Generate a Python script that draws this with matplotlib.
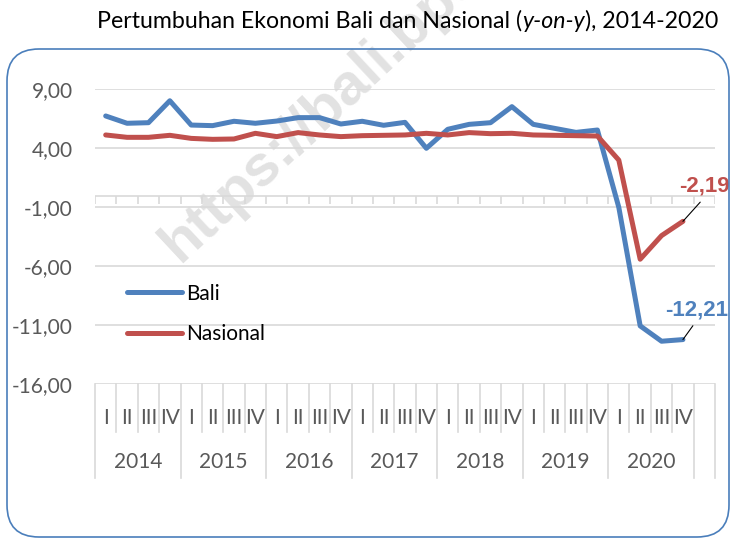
import matplotlib

matplotlib.use('Agg')

import matplotlib.pyplot as plt
from matplotlib.patches import FancyBboxPatch

plt.rcParams['font.family'] = ['Lato', 'DejaVu Sans']
BOLD_FONT = ['Liberation Sans', 'DejaVu Sans']

# data
years = ['2014', '2015', '2016', '2017', '2018', '2019', '2020']
quarters = ['I', 'II', 'III', 'IV']
bali = [6.74, 6.12, 6.17, 8.03, 5.97, 5.92, 6.29, 6.12,
        6.31, 6.60, 6.60, 6.06, 6.29, 5.95, 6.20, 4.00,
        5.61, 6.03, 6.17, 7.53, 6.03, 5.69, 5.35, 5.55,
        -1.00, -11.05, -12.35, -12.21]
nasional = [5.13, 4.93, 4.93, 5.10, 4.84, 4.76, 4.79, 5.27,
            4.99, 5.33, 5.13, 4.99, 5.07, 5.10, 5.13, 5.27,
            5.13, 5.33, 5.24, 5.27, 5.13, 5.10, 5.07, 5.04,
            3.00, -5.40, -3.40, -2.19]
y_ticks = [-16, 9, 5]

BLUE = '#4F81BD'
RED = '#C0504D'
GRID = '#D9D9D9'
LABEL = '#595959'

n = len(bali)
n_cat = n + 1  # excel range has one blank category at the end
x = [i + 0.5 for i in range(n)]

fig = plt.figure(figsize=(7.34, 5.39), dpi=100)
ax = fig.add_axes([95 / 734, 1 - 384.3 / 539, 620 / 734, 295 / 539])

# rounded chart border
fig.patches.append(FancyBboxPatch((0.12, 0.07), 7.12, 4.78,
                                  boxstyle='round,pad=0.05,rounding_size=0.32',
                                  transform=fig.dpi_scale_trans,
                                  facecolor='none', edgecolor='#4A7EBB', lw=1.2))

# watermark (runs off the top edge like in the source image)
fig.text(180 / 734, 1 - 263 / 539, 'https://bali.bps.go.id', rotation=43,
         rotation_mode='anchor', ha='left', va='baseline', fontsize=42,
         fontweight='bold', family=BOLD_FONT, color='#E2E2E2', zorder=-1)

ax.plot(x, bali, color=BLUE, lw=3.6, solid_capstyle='round',
        solid_joinstyle='round', label='Bali', zorder=3)
ax.plot(x, nasional, color=RED, lw=3.6, solid_capstyle='round',
        solid_joinstyle='round', label='Nasional', zorder=3)

ax.set_xlim(0, n_cat)
ax.set_ylim(y_ticks[0], y_ticks[1])
ticks = list(range(y_ticks[0], y_ticks[1] + 1, y_ticks[2]))
ax.set_yticks(ticks)
ax.set_yticklabels([f'{t:.2f}'.replace('.', ',') for t in ticks],
                   fontsize=15, color=LABEL)
ax.tick_params(axis='y', length=0, pad=16)
ax.set_xticks([])
for s in ax.spines.values():
    s.set_visible(False)
ax.grid(axis='y', color=GRID, lw=1.2)
ax.set_axisbelow(True)
ax.patch.set_alpha(0)

# horizontal axis at zero with tick marks
ax.axhline(0, color=GRID, lw=1.2, zorder=1)
ax.vlines(range(n_cat + 1), -0.68, 0, color=GRID, lw=1.2, zorder=1)

# two-level category labels below the plot
q_bottom = -20.07
y_bottom = -23.97
for i in range(n_cat + 1):
    low = y_bottom if (i % 4 == 0 or i >= n) else q_bottom
    ax.plot([i, i], [y_ticks[0], low], color=GRID, lw=1.2, clip_on=False)
for i in range(n):
    ax.text(i + 0.5, -18.85, quarters[i % 4], ha='center', va='center',
            fontsize=15, color=LABEL, clip_on=False)
for k, yr in enumerate(years):
    ax.text(4 * k + 2, -22.6, yr, ha='center', va='center',
            fontsize=15, color=LABEL, clip_on=False)

# end labels
ax.annotate(f'{nasional[-1]:.2f}'.replace('.', ','), xy=(x[-1], nasional[-1]),
            xytext=(15.8, 25.1), textcoords='offset points', ha='center',
            va='center', fontsize=16, fontweight='bold', family=BOLD_FONT,
            color=RED,
            arrowprops=dict(arrowstyle='-', color='black', lw=0.8,
                            relpos=(0.5, 0), patchA=None, shrinkA=5, shrinkB=0))
ax.annotate(f'{bali[-1]:.2f}'.replace('.', ','), xy=(x[-1], bali[-1]),
            xytext=(10.1, 21.6), textcoords='offset points', ha='center',
            va='center', fontsize=16, fontweight='bold', family=BOLD_FONT,
            color=BLUE,
            arrowprops=dict(arrowstyle='-', color='black', lw=0.8,
                            relpos=(0.5, 0), patchA=None, shrinkA=5, shrinkB=0))

ax.legend(loc='center left', bbox_to_anchor=(126.7 / 734, 1 - 314 / 539),
          bbox_transform=fig.transFigure, frameon=False, fontsize=15,
          handlelength=2.65, handletextpad=0.2, labelspacing=1.0,
          borderpad=0, borderaxespad=0)

# title with italic part
t1 = fig.text(97 / 734, 1 - 21 / 539, 'Pertumbuhan Ekonomi Bali dan Nasional (',
              ha='left', va='center', fontsize=16.7)
t2 = fig.text(0, 0, 'y-on-y', fontsize=16.7, style='italic')
t3 = fig.text(0, 0, '), 2014-2020', fontsize=16.7)
fig.canvas.draw()
r = fig.canvas.get_renderer()
bb = t1.get_window_extent(r)
t2.set_position((bb.x1 / fig.bbox.width, bb.y0 / fig.bbox.height))
t2.set_va('bottom')
bb2 = t2.get_window_extent(r)
t3.set_position((bb2.x1 / fig.bbox.width, bb.y0 / fig.bbox.height))
t3.set_va('bottom')

plt.savefig('out.png', dpi=100)
plt.close()
